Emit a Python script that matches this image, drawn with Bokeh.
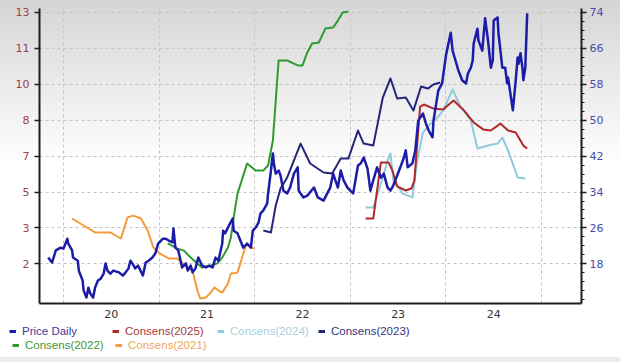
from bokeh.plotting import figure
from bokeh.layouts import column
from bokeh.models import Range1d, LinearAxis, FixedTicker, Legend, LegendItem
from bokeh.embed import file_html
from bokeh.resources import INLINE

# ---------------- data ----------------
PRICE_X = [2019.84, 2019.88, 2019.92, 2019.97, 2020.00, 2020.04, 2020.05, 2020.09, 2020.10, 2020.15,
           2020.16, 2020.20, 2020.21, 2020.24, 2020.26, 2020.28, 2020.31, 2020.33, 2020.36, 2020.39,
           2020.42, 2020.44, 2020.46, 2020.49, 2020.52, 2020.58, 2020.62, 2020.65, 2020.68, 2020.70,
           2020.72, 2020.75, 2020.78, 2020.83, 2020.86, 2020.89, 2020.93, 2020.96, 2020.99, 2021.04,
           2021.07, 2021.10, 2021.14, 2021.15, 2021.17, 2021.20, 2021.22, 2021.24, 2021.28, 2021.30,
           2021.33, 2021.35, 2021.38, 2021.41, 2021.45, 2021.49, 2021.52, 2021.56, 2021.59, 2021.62,
           2021.66, 2021.67, 2021.69, 2021.73, 2021.77, 2021.78, 2021.82, 2021.85, 2021.88, 2021.92,
           2021.96, 2021.98, 2022.01, 2022.04, 2022.06, 2022.09, 2022.13, 2022.14, 2022.17, 2022.19,
           2022.20, 2022.22, 2022.25, 2022.27, 2022.30, 2022.34, 2022.37, 2022.41, 2022.45, 2022.46,
           2022.51, 2022.55, 2022.62, 2022.66, 2022.72, 2022.79, 2022.82, 2022.87, 2022.90, 2022.93,
           2022.97, 2023.00, 2023.03, 2023.08, 2023.11, 2023.14, 2023.18, 2023.21, 2023.24, 2023.28,
           2023.32, 2023.35, 2023.39, 2023.42, 2023.45, 2023.49, 2023.53, 2023.56, 2023.58, 2023.60,
           2023.65, 2023.68, 2023.71, 2023.76, 2023.79, 2023.82, 2023.86, 2023.87, 2023.92, 2023.96,
           2024.00, 2024.05, 2024.07, 2024.10, 2024.13, 2024.17, 2024.21, 2024.23, 2024.26, 2024.28,
           2024.29, 2024.33, 2024.34, 2024.38, 2024.41, 2024.44, 2024.47, 2024.49, 2024.50, 2024.54,
           2024.55, 2024.59, 2024.62, 2024.64, 2024.65, 2024.68, 2024.70, 2024.71, 2024.73, 2024.75,
           2024.76, 2024.78, 2024.80, 2024.81, 2024.83, 2024.85]
PRICE_Y = [19.4, 18.3, 21.0, 21.6, 21.4, 23.6, 22.5, 21.0, 19.4, 18.7,
           16.5, 14.3, 12.1, 10.5, 12.7, 11.4, 10.5, 12.7, 14.3, 14.7,
           15.8, 18.1, 16.5, 15.8, 16.5, 16.1, 15.4, 16.1, 17.0, 18.7,
           18.1, 17.0, 17.6, 15.4, 18.3, 18.7, 19.4, 20.3, 22.5, 23.6,
           23.6, 23.2, 22.8, 25.9, 21.6, 21.0, 19.2, 17.2, 18.1, 16.5,
           17.6, 16.1, 17.0, 19.4, 17.6, 17.2, 17.6, 17.2, 19.4, 18.7,
           22.5, 25.4, 24.8, 26.5, 28.1, 25.4, 24.8, 23.2, 21.6, 22.5,
           21.6, 25.4, 26.1, 27.2, 29.2, 29.9, 31.4, 33.7, 38.8, 42.6,
           40.4, 38.1, 38.8, 37.7, 34.3, 33.7, 35.0, 38.1, 39.5, 34.3,
           32.8, 33.2, 35.0, 32.8, 32.1, 35.0, 38.1, 35.0, 38.8, 36.6,
           35.0, 34.3, 33.7, 39.9, 40.4, 41.7, 39.2, 34.3, 36.6, 39.5,
           37.2, 38.1, 35.0, 34.3, 35.5, 37.7, 39.9, 41.7, 43.3, 39.5,
           40.4, 43.3, 49.9, 51.5, 49.3, 47.7, 46.2, 49.9, 56.6, 58.2,
           64.4, 69.5, 65.5, 63.3, 61.1, 58.9, 58.2, 60.4, 61.7, 63.3,
           67.1, 70.4, 67.8, 65.5, 72.7, 67.8, 61.7, 63.3, 72.2, 72.9,
           69.3, 61.7, 61.7, 58.2, 59.5, 55.1, 52.2, 54.4, 58.9, 64.0,
           62.6, 64.9, 61.7, 58.9, 61.7, 73.8]

C2021_X = [2020.09, 2020.21, 2020.33, 2020.49, 2020.60, 2020.67, 2020.73, 2020.81, 2020.88, 2020.94,
           2021.01, 2021.10, 2021.19, 2021.24, 2021.30, 2021.35, 2021.40, 2021.43, 2021.49, 2021.54,
           2021.58, 2021.62, 2021.66, 2021.72, 2021.75, 2021.82, 2021.85, 2021.88, 2021.92, 2021.96, 2022.00]
C2021_Y = [3.82, 3.51, 3.20, 3.20, 2.93, 3.87, 3.95, 3.82, 3.29, 2.53,
           2.26, 2.04, 2.04, 1.86, 1.64, 1.50, 0.61, 0.26, 0.30, 0.52,
           0.75, 0.61, 0.52, 0.92, 1.37, 1.41, 1.82, 2.26, 2.71, 2.53, 2.48]

C2022_X = [2021.09, 2021.19, 2021.26, 2021.33, 2021.40, 2021.45, 2021.54, 2021.61, 2021.66, 2021.72,
           2021.75, 2021.78, 2021.82, 2021.87, 2021.92, 2022.01, 2022.09, 2022.14, 2022.19, 2022.22,
           2022.25, 2022.34, 2022.45, 2022.50, 2022.55, 2022.60, 2022.67, 2022.74, 2022.82, 2022.87,
           2022.92, 2022.98]
C2022_Y = [2.71, 2.48, 2.39, 2.08, 1.82, 1.64, 1.73, 1.82, 2.08, 2.53,
           2.97, 3.87, 4.93, 5.60, 6.27, 5.96, 5.96, 6.18, 7.30, 9.08,
           10.86, 10.86, 10.64, 10.64, 11.22, 11.62, 11.66, 12.29, 12.33, 12.64,
           13.00, 13.04]

C2023_X = [2022.09, 2022.17, 2022.22, 2022.27, 2022.34, 2022.48, 2022.58, 2022.72, 2022.81, 2022.87,
           2022.90, 2022.98, 2023.08, 2023.14, 2023.24, 2023.34, 2023.42, 2023.49, 2023.58, 2023.66,
           2023.74, 2023.81, 2023.87, 2023.94]
C2023_Y = [3.29, 3.20, 4.40, 5.16, 5.65, 7.16, 6.27, 5.87, 5.83, 6.27,
           6.49, 6.49, 7.74, 7.16, 7.07, 9.21, 10.06, 9.17, 9.21, 8.63,
           9.70, 9.61, 9.79, 9.88]

C2024_X = [2023.16, 2023.24, 2023.34, 2023.39, 2023.42, 2023.45, 2023.55, 2023.65, 2023.70, 2023.76,
           2023.82, 2023.91, 2023.97, 2024.07, 2024.15, 2024.26, 2024.33, 2024.44, 2024.54, 2024.59,
           2024.65, 2024.75, 2024.83]
C2024_Y = [4.31, 4.31, 5.65, 6.41, 6.72, 5.51, 4.93, 4.76, 6.41, 7.65,
           7.96, 8.32, 8.63, 9.57, 8.81, 8.19, 6.94, 7.07, 7.16, 7.43,
           6.85, 5.65, 5.60]

C2025_X = [2023.16, 2023.24, 2023.32, 2023.40, 2023.44, 2023.49, 2023.58, 2023.64, 2023.67, 2023.73,
           2023.77, 2023.87, 2023.97, 2024.08, 2024.18, 2024.29, 2024.39, 2024.47, 2024.57, 2024.65,
           2024.73, 2024.81, 2024.85]
C2025_Y = [3.82, 3.82, 6.32, 6.32, 5.96, 5.25, 5.07, 5.16, 5.51, 8.81,
           8.90, 8.72, 8.68, 9.08, 8.68, 8.10, 7.79, 7.74, 8.05, 7.74,
           7.65, 7.07, 6.94]

LEFT_TICKS = [1.8, 3.4, 5.0, 6.6, 8.2, 9.8, 11.4, 13.0]
LEFT_TICK_LABELS = ["2", "3", "5", "7", "8", "10", "11", "13"]
RIGHT_TICKS = [18, 26, 34, 42, 50, 58, 66, 74]
RIGHT_MINOR = [10, 12, 14, 16, 20, 22, 24, 28, 30, 32, 36, 38, 40, 44, 46, 48, 52, 54, 56,
               60, 62, 64, 68, 70, 72, 76]
YEAR_LABEL_POS = [2020.5, 2021.5, 2022.5, 2023.5, 2024.5]
YEAR_LABELS = ["20", "21", "22", "23", "24"]
YEAR_BOUNDS = [2020, 2021, 2022, 2023, 2024, 2025]

SERIES = [("Price Daily", PRICE_X, PRICE_Y), ("Consens(2025)", C2025_X, C2025_Y),
          ("Consens(2024)", C2024_X, C2024_Y), ("Consens(2023)", C2023_X, C2023_Y),
          ("Consens(2022)", C2022_X, C2022_Y), ("Consens(2021)", C2021_X, C2021_Y)]

# ---------------- main figure ----------------
p = figure(width=620, height=322, output_backend="svg", toolbar_location=None,
           x_range=Range1d(2019.749, 2025.418), y_range=Range1d(0.034, 13.178),
           min_border_left=39, min_border_right=39, min_border_top=8, min_border_bottom=19)
p.extra_y_ranges = {"price": Range1d(9.17, 74.89)}
p.background_fill_color = None
p.border_fill_color = None
p.outline_line_color = None
p.styles = {"background": "linear-gradient(180deg, #d5d5d5 0px, #ececec 90px, #ffffff 165px, #ffffff 322px)"}

AX_COL = "#1e1e1e"
TICK_FONT = "DejaVu Sans"

xa = p.xaxis[0]
xa.ticker = FixedTicker(ticks=YEAR_LABEL_POS, minor_ticks=[])
xa.major_label_overrides = dict(zip(YEAR_LABEL_POS, YEAR_LABELS))
xa.major_tick_out = 0
xa.major_tick_in = 0
xa.minor_tick_out = 0
xa.minor_tick_in = 0
xa.axis_line_color = AX_COL
xa.axis_line_width = 2
xa.major_label_standoff = 6
xa.major_label_text_font = TICK_FONT
xa.major_label_text_font_size = "11px"
xa.major_label_text_color = "#333333"

la = p.yaxis[0]
la.ticker = FixedTicker(ticks=LEFT_TICKS, minor_ticks=[])
la.major_label_overrides = dict(zip(LEFT_TICKS, LEFT_TICK_LABELS))
la.major_tick_out = 5
la.major_tick_in = 0
la.minor_tick_out = 0
la.minor_tick_in = 0
la.axis_line_color = AX_COL
la.axis_line_width = 2
la.major_tick_line_color = AX_COL
la.major_tick_line_width = 1.5
la.major_label_standoff = 5
la.major_label_text_font = TICK_FONT
la.major_label_text_font_size = "11px"
la.major_label_text_color = "#a3404c"

ra = LinearAxis(y_range_name="price",
                ticker=FixedTicker(ticks=RIGHT_TICKS, minor_ticks=RIGHT_MINOR))
ra.major_tick_out = 5
ra.major_tick_in = 1
ra.minor_tick_out = 3
ra.minor_tick_in = 0
ra.axis_line_color = AX_COL
ra.axis_line_width = 2
ra.major_tick_line_color = AX_COL
ra.major_tick_line_width = 1.5
ra.minor_tick_line_color = AX_COL
ra.minor_tick_line_width = 1.2
ra.major_label_standoff = 3
ra.major_label_text_font = TICK_FONT
ra.major_label_text_font_size = "11px"
ra.major_label_text_color = "#4a4aa8"
p.add_layout(ra, "right")

p.xgrid.ticker = FixedTicker(ticks=YEAR_BOUNDS)
p.ygrid.ticker = FixedTicker(ticks=LEFT_TICKS)
for g in (p.xgrid[0], p.ygrid[0]):
    g.grid_line_color = "#c4c4c4"
    g.grid_line_dash = "3 3"
    g.grid_line_width = 1

LINE_COLORS = {"Price Daily": "#1c1ca8", "Consens(2025)": "#b02828", "Consens(2024)": "#8fcbd8",
               "Consens(2023)": "#25257a", "Consens(2022)": "#2e9a2e", "Consens(2021)": "#f39c3c"}
TEXT_COLORS = {"Price Daily": "#3a3aa0", "Consens(2025)": "#a83a3a", "Consens(2024)": "#a9d2e0",
               "Consens(2023)": "#333380", "Consens(2022)": "#3d993d", "Consens(2021)": "#f0a658"}

p.line(C2021_X, C2021_Y, line_color=LINE_COLORS["Consens(2021)"], line_width=2, line_join="round")
p.line(C2022_X, C2022_Y, line_color=LINE_COLORS["Consens(2022)"], line_width=2, line_join="round")
p.line(C2024_X, C2024_Y, line_color=LINE_COLORS["Consens(2024)"], line_width=2, line_join="round")
p.line(C2025_X, C2025_Y, line_color=LINE_COLORS["Consens(2025)"], line_width=2, line_join="round")
p.line(C2023_X, C2023_Y, line_color=LINE_COLORS["Consens(2023)"], line_width=2, line_join="round")
p.line(PRICE_X, PRICE_Y, y_range_name="price", line_color=LINE_COLORS["Price Daily"],
       line_width=2.5, line_join="round")

# ---------------- legend strip ----------------
lf = figure(width=620, height=40, output_backend="svg", toolbar_location=None,
            x_range=Range1d(0, 1), y_range=Range1d(0, 1),
            x_axis_location=None, y_axis_location=None,
            min_border_left=0, min_border_right=0, min_border_top=0, min_border_bottom=0)
try:
    lf.frame_align = False
except Exception:
    pass
lf.grid.visible = False
lf.background_fill_color = None
lf.border_fill_color = None
lf.outline_line_color = None
lf.styles = {"background": "linear-gradient(180deg, #ffffff 0px, #ffffff 35px, #ebebeb 35px, #ebebeb 40px)"}

# (glyph left x in px, bottom offset in px from strip bottom)
LEGEND_POS = {"Price Daily": (9, 25), "Consens(2025)": (112, 25), "Consens(2024)": (217, 25),
              "Consens(2023)": (318, 25), "Consens(2022)": (12, 11), "Consens(2021)": (115, 11)}
for name, sx, sy in SERIES:
    # series drawn in the strip only for its legend swatch (outside the strip's visible range)
    swatch = lf.line(sx, sy, line_color=LINE_COLORS[name], line_width=3)
    lx, ly = LEGEND_POS[name]
    lg = Legend(items=[LegendItem(label=name, renderers=[swatch])],
                location=(lx, ly), orientation="horizontal",
                padding=0, margin=0, spacing=0, border_line_color=None,
                background_fill_alpha=0, glyph_width=7, glyph_height=12,
                label_height=12, label_standoff=6,
                label_text_font="Liberation Sans", label_text_font_size="11.5px",
                label_text_color=TEXT_COLORS[name])
    lf.add_layout(lg, "center")

layout = column(p, lf, spacing=0)
open("out.html", "w").write(file_html(layout, INLINE))
